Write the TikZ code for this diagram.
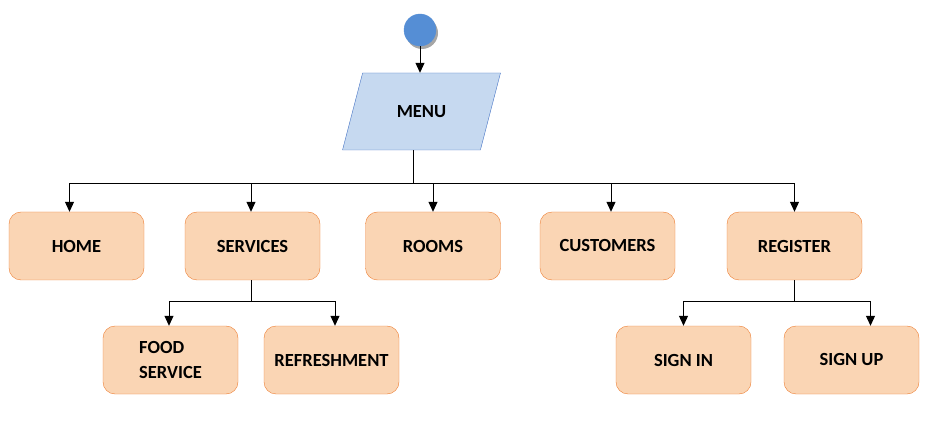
\documentclass[tikz,border=0pt]{standalone}
\usepackage{fontspec}
\setmainfont{Carlito}
\usepackage{xcolor}
\usetikzlibrary{shapes.geometric, arrows.meta, shadows}

\definecolor{boxfill}{RGB}{250,213,180}
\definecolor{boxline}{RGB}{237,125,49}
\definecolor{menufill}{RGB}{198,217,240}
\definecolor{menuline}{RGB}{68,114,196}
\definecolor{startfill}{RGB}{85,142,213}

\begin{document}
\begin{tikzpicture}[x=1pt, y=-1pt,
  box/.style={draw=boxline, fill=boxfill, rounded corners=12pt, minimum width=135pt,
    minimum height=68pt, inner sep=0pt, align=center, font=\bfseries\fontsize{18.5}{25}\selectfont},
  arr/.style={-{Triangle[width=9pt,length=10pt]}, line width=1pt},
  link/.style={line width=1pt}]
\useasboundingbox (0,0) rectangle (927,422);

% Start point
\node[circle, fill=startfill, draw=startfill, minimum size=32pt, inner sep=0pt,
  drop shadow={shadow xshift=2pt, shadow yshift=-3pt, fill=gray!70, opacity=1}] (start) at (420,30) {};

% Menu
\node[trapezium, trapezium left angle=63, trapezium right angle=117, trapezium stretches=true,
  draw=menuline, fill=menufill, minimum width=159pt, minimum height=77pt,
  font=\bfseries\fontsize{18.5}{25}\selectfont] (menu) at (421.5,111.5) {MENU};
\draw[arr] (start.south) -- (menu.north -| start.south);

% First level
\node[box] (home) at (76.5,246) {HOME};
\node[box] (services) at (252.5,246) {SERVICES};
\node[box] (rooms) at (433,246) {ROOMS};
\node[box] (customers) at (607.5,246) {CUSTOMERS};
\node[box] (register) at (794.5,246) {REGISTER};

\coordinate (bus) at (413,184);
\draw[link] (menu.south -| bus) -- (bus);
\draw[arr] (bus) -| ([xshift=-7pt]home.north);
\draw[arr] (bus) -| ([xshift=-1.5pt]services.north);
\draw[arr] (bus) -| (rooms.north);
\draw[arr] (bus) -| ([xshift=3.5pt]customers.north);
\draw[arr] (bus) -| (register.north);

% Services
\node[box, align=left] (food) at (170.5,360) {FOOD\\SERVICE};
\node[box] (refresh) at (331.5,360) {REFRESHMENT};
\draw[link] ([xshift=-1.5pt]services.south) -- ++(0,21) coordinate (sbus);
\draw[arr] (sbus) -| ([xshift=-1.5pt]food.north);
\draw[arr] (sbus) -| ([xshift=3.5pt]refresh.north);

% Register
\node[box] (signin) at (683.5,360) {SIGN IN};
\node[box] (signup) at (851.5,360) {SIGN UP};
\draw[link] (register.south) -- ++(0,21) coordinate (rbus);
\draw[arr] (rbus) -| (signin.north);
\draw[arr] (rbus) -| ([xshift=19pt]signup.north);
\end{tikzpicture}
\end{document}
